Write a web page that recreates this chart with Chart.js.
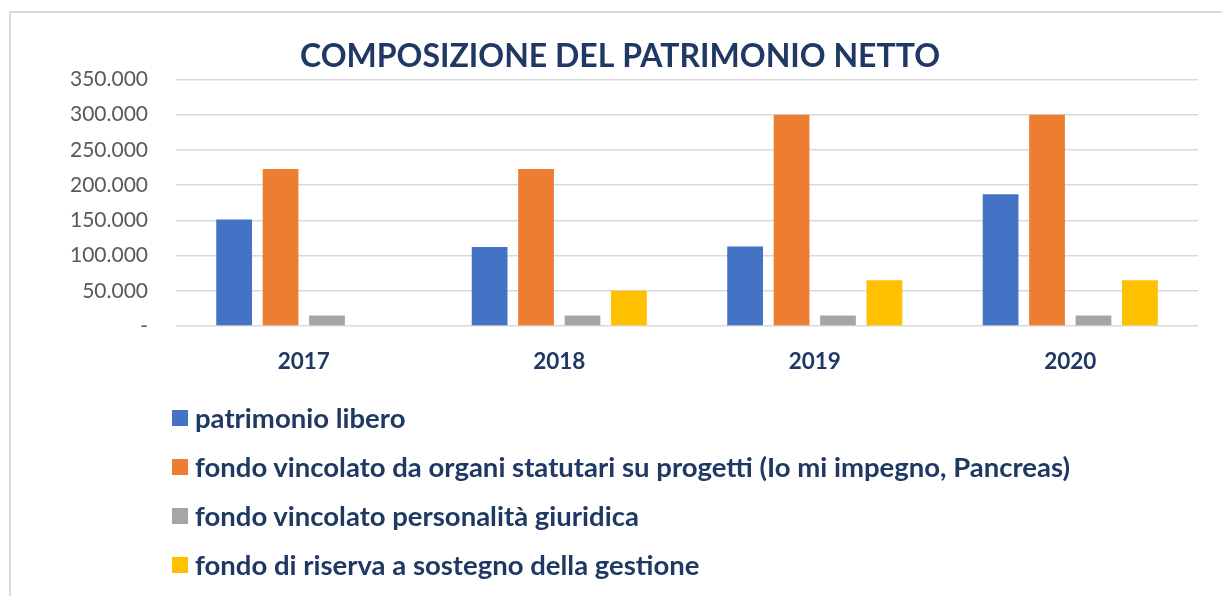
<!DOCTYPE html>
<html>
<head>
<meta charset="utf-8">
<script src="https://cdn.jsdelivr.net/npm/chart.js@4"></script>
<style>
  html, body { margin: 0; padding: 0; background: #fff; }
  #wrap { position: relative; width: 1222px; height: 596px; overflow: hidden; }
  #frame { position: absolute; left: 9px; top: 11px; width: 1230px; height: 700px;
           border-left: 2px solid #d9d9d9; border-top: 2px solid #d9d9d9; }
  #chart { position: absolute; left: 0; top: 0; }
  #legend { position: absolute; left: 172px; top: 393px; margin: 0; padding: 0; list-style: none;
            font-family: Lato, "Open Sans", sans-serif; font-weight: bold; font-size: 27.5px; color: #1F3864; }
  #legend li { height: 49px; display: flex; align-items: center; }
  #legend span.box { display: inline-block; width: 16px; height: 16px; margin-right: 7px; }
</style>
</head>
<body>
<div id="wrap">
  <div id="frame"></div>
  <canvas id="chart" width="1222" height="596"></canvas>
  <ul id="legend"></ul>
</div>
<script>
const years = ['2017', '2018', '2019', '2020'];
const seriesNames = [
  'patrimonio libero',
  'fondo vincolato da organi statutari su progetti (Io mi impegno, Pancreas)',
  'fondo vincolato personalità giuridica',
  'fondo di riserva a sostegno della gestione'
];
const patrimonioLibero = [151000, 112000, 113000, 187000];
const fondoOrgani = [223000, 223000, 300000, 300000];
const fondoPersonalita = [15000, 15000, 15000, 15000];
const fondoRiserva = [0, 50000, 65000, 65000];
const colors = ['#4472C4', '#ED7D31', '#A5A5A5', '#FFC000'];

const navy = '#1F3864';

// 350000 -> "350.000", 0 -> "-"
const fmt = v => v === 0 ? '-' : String(v).replace(/\B(?=(\d{3})+(?!\d))/g, '.');

const values = [patrimonioLibero, fondoOrgani, fondoPersonalita, fondoRiserva];

const chart = new Chart(document.getElementById('chart').getContext('2d'), {
  type: 'bar',
  data: {
    labels: years,
    datasets: values.map((d, i) => ({
      label: seriesNames[i],
      data: d,
      backgroundColor: colors[i],
      borderWidth: 0,
      categoryPercentage: 0.727,
      barPercentage: 0.77
    }))
  },
  options: {
    responsive: false,
    animation: false,
    layout: { padding: { left: 42, right: 24, top: 37, bottom: 199 } },
    plugins: {
      legend: { display: false },
      tooltip: { enabled: false },
      title: {
        display: true,
        text: 'COMPOSIZIONE DEL PATRIMONIO NETTO',
        color: navy,
        font: { family: 'Lato, "Open Sans", sans-serif', size: 32, weight: 'bold' },
        padding: { top: 0, bottom: 4 }
      }
    },
    scales: {
      x: {
        grid: { display: false, drawTicks: false },
        border: { display: false },
        ticks: {
          color: navy,
          padding: 22,
          font: { family: 'Lato, "Open Sans", sans-serif', size: 22.5, weight: 'bold' }
        }
      },
      y: {
        min: 0,
        max: 350000,
        border: { display: false },
        grid: { color: '#d9d9d9', lineWidth: 1.5, drawTicks: false },
        ticks: {
          stepSize: 50000,
          padding: 28,
          color: '#595959',
          font: { family: 'Lato, "Open Sans", sans-serif', size: 21 },
          callback: v => fmt(v)
        }
      }
    }
  }
});

// legend as a vertical list below the plot
const ul = document.getElementById('legend');
chart.data.datasets.forEach(ds => {
  const li = document.createElement('li');
  const box = document.createElement('span');
  box.className = 'box';
  box.style.background = ds.backgroundColor;
  li.appendChild(box);
  li.appendChild(document.createTextNode(ds.label));
  ul.appendChild(li);
});
</script>
</body>
</html>
